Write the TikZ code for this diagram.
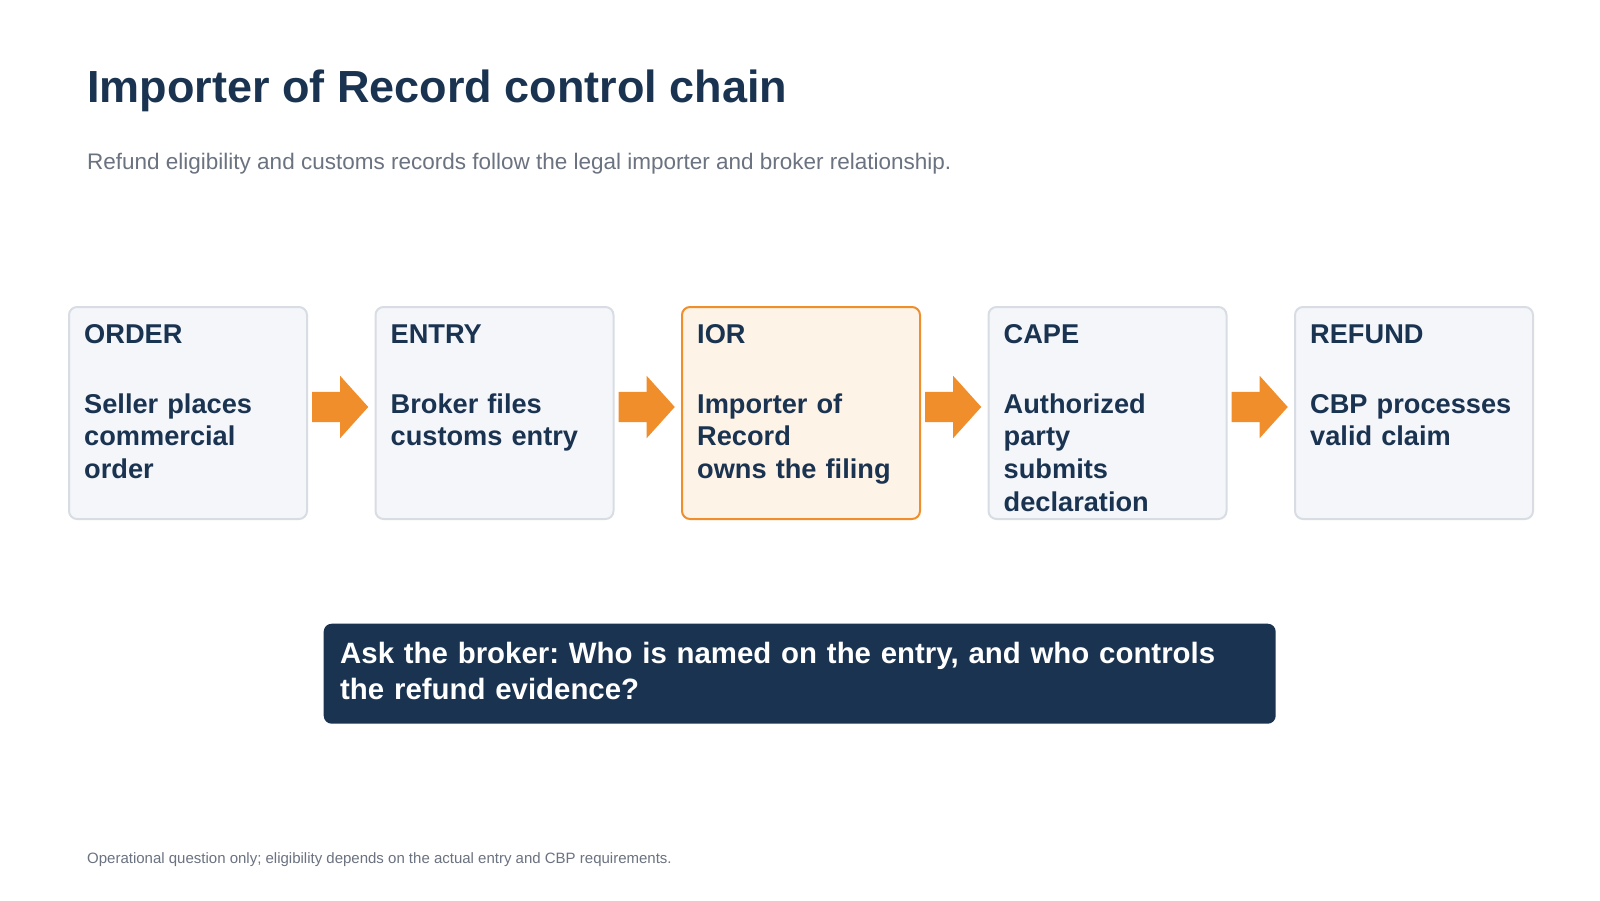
\documentclass[tikz,border=0pt]{standalone}
\usepackage{fontspec}
\setmainfont{Liberation Sans}
\usetikzlibrary{shapes.arrows}
\definecolor{navy}{HTML}{1A3350}
\definecolor{greytext}{HTML}{6B7280}
\definecolor{boxfill}{HTML}{F4F6FA}
\definecolor{boxline}{HTML}{D8DDE4}
\definecolor{accent}{HTML}{F08E2C}
\definecolor{accentfill}{HTML}{FDF3E7}
\frenchspacing
\begin{document}
\begin{tikzpicture}[x=1pt,y=-1pt,
  stepbox/.style={draw=boxline, line width=2pt, fill=boxfill, rounded corners=8pt, minimum width=238pt, minimum height=212pt, anchor=north west, inner sep=0pt},
  keybox/.style={stepbox, draw=accent, fill=accentfill},
  steptext/.style={anchor=base west, inner sep=0pt, text width=206pt, align=left, text=navy, font=\fontsize{27.2}{32.7}\selectfont\bfseries},
  flow/.style={single arrow, fill=accent, draw=none, inner xsep=0pt, inner ysep=15pt, minimum height=56pt, single arrow head extend=16pt, single arrow tip angle=96, anchor=tip}
]
\fill[white] (0,0) rectangle (1600,900);
\useasboundingbox (0,0) rectangle (1600,900);

\node[anchor=base west, inner sep=0pt, text=navy, font=\fontsize{45}{54}\selectfont\bfseries] (title) at (87,102) {Importer of Record control chain};
\node[anchor=base west, inner sep=0pt, text=greytext, font=\fontsize{22.5}{27}\selectfont] (subtitle) at (87,169) {Refund eligibility and customs records follow the legal importer and broker relationship.};

\node[stepbox] (order) at (68,306) {};
\node[stepbox] (entry) at (374.5,306) {};
\node[keybox] (ior) at (681,306) {};
\node[stepbox] (cape) at (987.5,306) {};
\node[stepbox] (refund) at (1294,306) {};

\node[steptext] (order-txt) at (84,343) {ORDER\\[37.5pt]Seller places\\commercial\\order};
\node[steptext] (entry-txt) at (390.5,343) {ENTRY\\[37.5pt]Broker files\\customs entry};
\node[steptext] (ior-txt) at (697,343) {IOR\\[37.5pt]Importer of\\Record\\owns the filing};
\node[steptext] (cape-txt) at (1003.5,343) {CAPE\\[37.5pt]Authorized\\party\\submits\\declaration};
\node[steptext] (refund-txt) at (1310,343) {REFUND\\[37.5pt]CBP processes\\valid claim};

\node[flow] (a1) at ([xshift=-6pt,yshift=6pt]entry.west) {};
\node[flow] (a2) at ([xshift=-6pt,yshift=6pt]ior.west) {};
\node[flow] (a3) at ([xshift=-6pt,yshift=6pt]cape.west) {};
\node[flow] (a4) at ([xshift=-6pt,yshift=6pt]refund.west) {};

\node[fill=navy, rounded corners=8pt, minimum width=952pt, minimum height=100pt, anchor=north west, inner sep=0pt] (ask) at (323.5,623.5) {};
\node[anchor=base west, inner sep=0pt, text width=920pt, align=left, text=white, font=\fontsize{29.4}{36}\selectfont\bfseries] (ask-txt) at (340,663) {Ask the broker: Who is named on the entry, and who controls\\the refund evidence?};

\node[anchor=base west, inner sep=0pt, text=greytext, font=\fontsize{15}{18}\selectfont] (note) at (87,863) {Operational question only; eligibility depends on the actual entry and CBP requirements.};
\end{tikzpicture}
\end{document}
